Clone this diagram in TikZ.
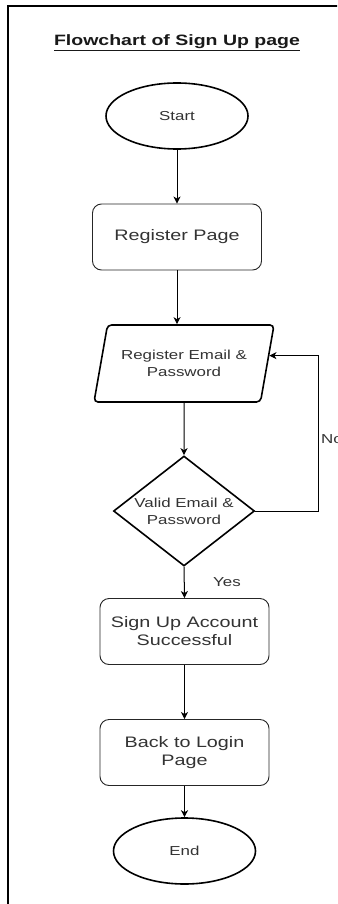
\documentclass[tikz,border=0pt]{standalone}
\usepackage{fontspec}
\setmainfont{Liberation Sans}
\newfontfamily\widefont[FakeStretch=1.3]{Liberation Sans}
\usetikzlibrary{shapes.geometric,arrows.meta,calc}

\tikzset{
  txt/.style={text=black!80, align=center, font=\widefont\fontsize{13}{17}\selectfont},
  bigtxt/.style={text=black!80, align=center, font=\widefont\fontsize{15.2}{18}\selectfont},
  terminal/.style={ellipse, draw=black, line width=1.6pt, minimum width=142pt, minimum height=66pt, inner sep=0pt, txt},
  process/.style={rectangle, rounded corners=9pt, draw=black!85, line width=0.9pt, minimum width=169pt, minimum height=66pt, inner sep=0pt, bigtxt},
  io/.style={trapezium, trapezium left angle=63, trapezium right angle=117, trapezium stretches body,
    draw=black, line width=1.6pt, rounded corners=4pt, minimum width=180pt, minimum height=77pt, inner sep=0pt, txt},
  decision/.style={diamond, draw=black, line width=1.6pt, aspect=1.28, minimum width=141pt, minimum height=110pt, inner sep=0pt, txt},
  arr/.style={draw=black, line width=1pt, -{Stealth[length=7pt,width=7pt,inset=2pt]}},
  lbl/.style={txt, inner sep=0pt},
}

\begin{document}
\begin{tikzpicture}[x=1pt,y=-1pt]
  \clip (0,0) rectangle (337,904);
  \useasboundingbox (0,0) rectangle (337,904);
  \fill[white] (0,0) rectangle (337,904);

  % page frame
  \draw[line width=1.4pt] (8,6) rectangle (350,920);

  % title
  \node (title) at (177,43) [text=black!90, font=\widefont\fontsize{15}{18}\selectfont\bfseries]
    {\underline{Flowchart of Sign Up page}};

  % flow nodes
  \node[terminal] (start) at (177,116) {Start};
  \node[process] (regpage) at (177,237) {Register Page};
  \node[io] (reg) at (184,363.5) {Register Email \&\\Password};
  \node[decision] (valid) at (184,511) {Valid Email \&\\Password};
  \node[process] (signup) at (184.5,631.5) {Sign Up Account\\Successful};
  \node[process] (back) at (184.5,752.5) {Back to Login\\Page};
  \node[terminal] (end) at (184.5,851) {End};

  % connectors
  \draw[arr] (start) -- (regpage);
  \draw[arr] (regpage.south) -- (regpage.south |- reg.north);
  \draw[arr] (reg.south) -- (valid.north);
  \draw[arr] (valid.south) -- (signup.north);
  \draw[arr] (signup) -- (back);
  \draw[arr] (back) -- (end);

  % retry loop on invalid input
  \coordinate (loop) at (318,0);
  \coordinate (regin) at ($(reg.top right corner)!0.4!(reg.bottom right corner)$);
  \draw[arr] (valid.east) -- (valid.east -| loop) -- (loop |- regin) -- (regin);

  % branch labels
  \node[lbl, anchor=west] (no) at (321,439) {No};
  \node[lbl] (yes) at (227,582) {Yes};
\end{tikzpicture}
\end{document}
